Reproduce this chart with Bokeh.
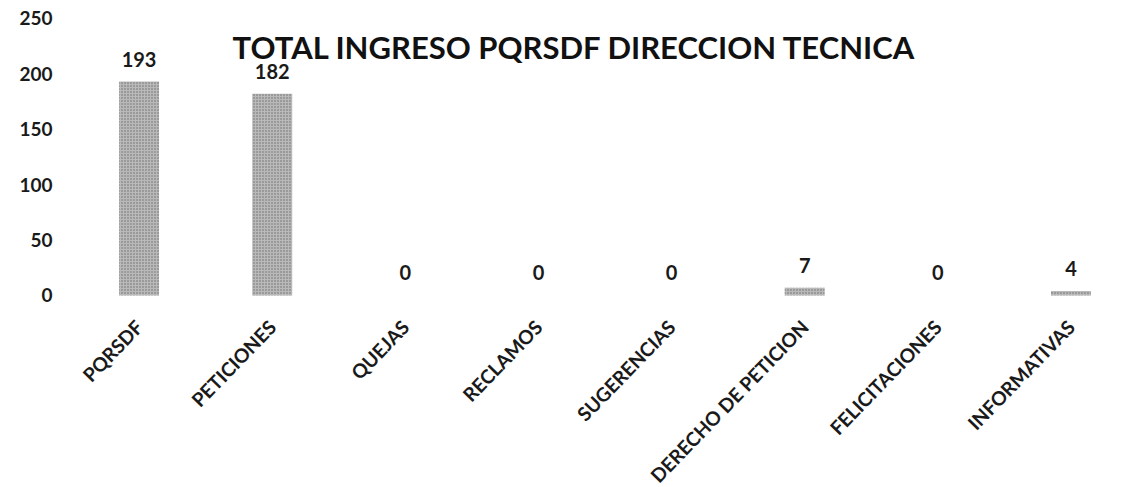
import math
from bokeh.plotting import figure
from bokeh.models import ColumnDataSource, Range1d, Label
from bokeh.core.properties import value
from bokeh.embed import file_html
from bokeh.resources import INLINE

categories = ["PQRSDF", "PETICIONES", "QUEJAS", "RECLAMOS", "SUGERENCIAS",
              "DERECHO DE PETICION", "FELICITACIONES", "INFORMATIVAS"]
counts = [193, 182, 0, 0, 0, 7, 0, 4]
y_ticks = [0, 50, 100, 150, 200, 250]
title_text = "TOTAL INGRESO PQRSDF  DIRECCION TECNICA"

FONT = "Lato"

src = ColumnDataSource(dict(cat=categories, val=counts, lab=[str(v) for v in counts]))

p = figure(x_range=categories, y_range=Range1d(-173.3, 266.2),
           width=1141, height=487, output_backend="svg", toolbar_location=None,
           min_border_left=72, min_border_right=4, min_border_top=0, min_border_bottom=0)

p.vbar(x="cat", top="val", width=0.3, source=src, fill_color="#b9b9b9",
       line_color=None, hatch_pattern="dot", hatch_scale=3, hatch_color="#4a4a4a",
       hatch_alpha=0.7)

p.text(x="cat", y="val", text="lab", source=src, text_align="center",
       text_baseline="bottom", y_offset=-15, text_font=value(FONT),
       text_font_style="bold", text_font_size="20px", text_color="#1a1a1a")

p.add_layout(Label(x=506, y=224, x_units="screen", y_units="data", text=title_text,
                   text_align="center", text_baseline="alphabetic",
                   text_font=FONT, text_font_style="bold", text_font_size="31px",
                   text_color="#111111"))

p.xgrid.visible = False
p.ygrid.visible = False
p.outline_line_color = None

p.yaxis.ticker = y_ticks
p.yaxis.axis_line_color = None
p.yaxis.major_tick_line_color = None
p.yaxis.minor_tick_line_color = None
p.yaxis.major_label_standoff = 14
p.yaxis.major_label_text_font = FONT
p.yaxis.major_label_text_font_style = "bold"
p.yaxis.major_label_text_font_size = "19px"
p.yaxis.major_label_text_color = "#1a1a1a"

p.xaxis.fixed_location = 0
p.xaxis.axis_line_color = None
p.xaxis.major_tick_line_color = None
p.xaxis.minor_tick_line_color = None
p.xaxis.major_label_orientation = 0.8
p.xaxis.major_label_standoff = 22
p.xaxis.major_label_text_font = FONT
p.xaxis.major_label_text_font_style = "bold"
p.xaxis.major_label_text_font_size = "19.3px"
p.xaxis.major_label_text_color = "#1a1a1a"

open("out.html", "w").write(file_html(p, INLINE))
